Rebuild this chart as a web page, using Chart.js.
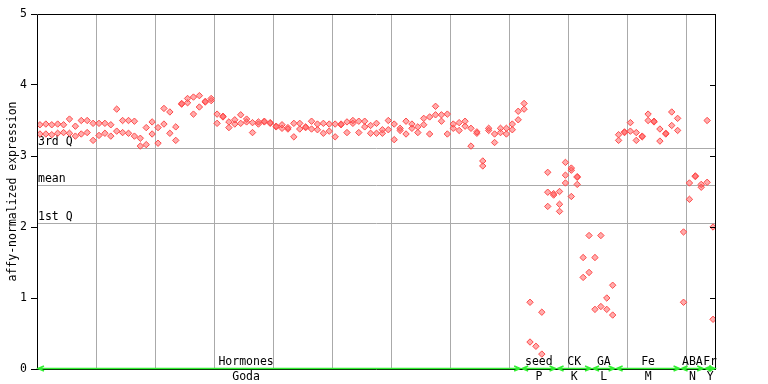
<!DOCTYPE html>
<html>
<head>
<meta charset="utf-8">
<script src="https://cdn.jsdelivr.net/npm/chart.js@4"></script>
<style>
  html, body { margin: 0; padding: 0; background: #fff; }
  #wrap { width: 768px; height: 384px; position: relative; }
</style>
</head>
<body>
<div id="wrap"><canvas id="chart"></canvas></div>
<script>
// expression per sample (replicate 1, replicate 2, extra replicate)
const repA = [
  3.44, 3.45, 3.44, 3.45, 3.44, 3.52, 3.42, 3.50, 3.50, 3.46,
  3.46, 3.46, 3.44, 3.66, 3.50, 3.50, 3.49, 3.25, 3.40, 3.48,
  3.40, 3.67, 3.62, 3.41, 3.74, 3.81, 3.83, 3.85, 3.77, 3.81,
  3.59, 3.56, 3.48, 3.51, 3.58, 3.52, 3.47, 3.48, 3.49, 3.47,
  3.42, 3.44, 3.40, 3.46, 3.46, 3.41, 3.49, 3.45, 3.46, 3.45,
  3.45, 3.45, 3.48, 3.50, 3.49, 3.49, 3.43, 3.46, 3.37, 3.50,
  3.45, 3.39, 3.49, 3.45, 3.41, 3.53, 3.55, 3.70, 3.58, 3.59,
  3.45, 3.47, 3.49, 3.39, 3.34, 2.93, 3.39, 3.31, 3.39, 3.39,
  3.45, 3.63, 3.74, 0.94, 0.32, 0.80, 2.77, 2.47, 2.50, 2.91,
  2.83, 2.71, 1.57, 1.88, 1.57, 1.88, 1.00, 1.18, 3.30, 3.34,
  3.47, 3.33, 3.28, 3.59, 3.49, 3.38, 3.32, 3.62, 3.53, 1.93,
  2.62, 2.72, 2.60, 3.50, 2.00
];
const repB = [
  3.31, 3.31, 3.30, 3.32, 3.33, 3.32, 3.28, 3.31, 3.33, 3.22,
  3.29, 3.32, 3.28, 3.35, 3.33, 3.32, 3.28, 3.14, 3.16, 3.31,
  3.18, 3.45, 3.32, 3.22, 3.73, 3.75, 3.59, 3.69, 3.76, 3.78,
  3.46, 3.55, 3.40, 3.45, 3.46, 3.48, 3.33, 3.45, 3.48, 3.46,
  3.41, 3.39, 3.38, 3.27, 3.38, 3.40, 3.38, 3.37, 3.32, 3.35,
  3.27, 3.44, 3.33, 3.46, 3.33, 3.41, 3.32, 3.32, 3.32, 3.37,
  3.23, 3.36, 3.31, 3.39, 3.33, 3.44, 3.31, 3.58, 3.49, 3.31,
  3.39, 3.36, 3.42, 3.14, 3.32, 2.86, 3.36, 3.19, 3.33, 3.31,
  3.37, 3.51, 3.66, 0.38, null, 0.21, 2.49, 2.45, 2.32, 2.73,
  2.80, 2.60, 1.29, 1.36, 0.84, 0.88, 0.84, 0.76, 3.22, 3.33,
  3.35, 3.22, 3.27, 3.50, 3.48, 3.21, 3.31, 3.43, 3.36, 0.94,
  2.39, 2.71, 2.56, 2.63, 0.70
];
const repC = [];
repC[86] = 2.29; repC[88] = 2.22; repC[89] = 2.62; repC[90] = 2.43; repC[91] = 2.70;

const nSamples = repA.length;

// reference lines
const refNames = ['3rd Q', 'mean', '1st Q'];
const refValues = [3.11, 2.59, 2.05];

// sample groups along the x axis
const groupNames = ['Hormones', 'seed', 'CK', 'GA', 'Fe', 'ABA', 'Fr'];
const groupCodes = ['Goda', 'P', 'K', 'L', 'M', 'N', 'Y'];
const groupStart = [0, 82, 88, 94, 98, 109, 113];
const groupEnd   = [82, 88, 94, 98, 109, 113, 115];

const yTicks = [0, 1, 2, 3, 4, 5];

const FONT = '11.5px "DejaVu Sans Mono", monospace';

function toPoints(arr) {
  const pts = [];
  for (let i = 0; i < nSamples; i++) {
    if (arr[i] != null) pts.push({ x: i + 0.5, y: arr[i] });
  }
  return pts;
}

const pointStyle = {
  showLine: false,
  pointStyle: 'rectRot',
  pointRadius: 3.2,
  pointBorderWidth: 1,
  pointBorderColor: '#ff4a4a',
  pointBackgroundColor: 'rgba(255,90,90,0.5)'
};

const decor = {
  id: 'decor',
  beforeDatasetsDraw(chart) {
    const { ctx, chartArea: a, scales: { y } } = chart;
    ctx.save();
    // reference lines + labels
    ctx.font = FONT;
    ctx.fillStyle = '#000';
    ctx.textAlign = 'left';
    ctx.textBaseline = 'bottom';
    refValues.forEach((v, k) => {
      const py = Math.round(y.getPixelForValue(v)) + 0.5;
      ctx.strokeStyle = '#aaa';
      ctx.lineWidth = 1;
      ctx.beginPath();
      ctx.moveTo(a.left, py);
      ctx.lineTo(a.right, py);
      ctx.stroke();
      ctx.fillText(refNames[k], a.left + 1, py - 1);
    });
    ctx.restore();
  },
  afterDraw(chart) {
    const { ctx, chartArea: a, scales: { x, y } } = chart;
    ctx.save();
    ctx.font = FONT;
    ctx.fillStyle = '#000';

    // frame
    ctx.strokeStyle = '#000';
    ctx.lineWidth = 1;
    ctx.beginPath();
    ctx.moveTo(a.left + 0.5, a.bottom);
    ctx.lineTo(a.left + 0.5, a.top + 0.5);
    ctx.lineTo(a.right - 0.5, a.top + 0.5);
    ctx.lineTo(a.right - 0.5, a.bottom);
    ctx.stroke();
    // inner ticks on right side
    yTicks.forEach(v => {
      const py = Math.round(y.getPixelForValue(v)) + 0.5;
      ctx.beginPath();
      ctx.moveTo(a.right - 6, py);
      ctx.lineTo(a.right, py);
      ctx.stroke();
    });

    // y axis title
    ctx.save();
    ctx.translate(13, (a.top + a.bottom) / 2);
    ctx.rotate(-Math.PI / 2);
    ctx.textAlign = 'center';
    ctx.textBaseline = 'middle';
    ctx.fillText('affy-normalized expression', 0, 0);
    ctx.restore();

    // group bands on the x axis
    const by = Math.round(a.bottom) - 0.5;
    ctx.strokeStyle = '#000';
    ctx.beginPath();
    ctx.moveTo(a.left, by + 1);
    ctx.lineTo(a.right, by + 1);
    ctx.stroke();
    ctx.strokeStyle = '#33ee33';
    ctx.lineWidth = 1.5;
    ctx.textAlign = 'center';
    groupNames.forEach((g, k) => {
      const x0 = x.getPixelForValue(groupStart[k]) + 1;
      const x1 = x.getPixelForValue(groupEnd[k]) - 1;
      ctx.beginPath();
      ctx.moveTo(x0, by);
      ctx.lineTo(x1, by);
      // arrow heads
      ctx.moveTo(x0 + 6, by - 2.5);
      ctx.lineTo(x0, by);
      ctx.lineTo(x0 + 6, by + 2.5);
      ctx.moveTo(x1 - 6, by - 2.5);
      ctx.lineTo(x1, by);
      ctx.lineTo(x1 - 6, by + 2.5);
      ctx.stroke();
      const cx = (x0 + x1) / 2;
      ctx.fillStyle = '#000';
      ctx.textBaseline = 'bottom';
      ctx.fillText(g, k === 0 ? cx - 33 : cx, by - 1);
      ctx.textBaseline = 'top';
      ctx.fillText(groupCodes[k], k === 0 ? cx - 33 : cx, by + 3);
    });

    ctx.restore();
  }
};

new Chart(document.getElementById('chart'), {
  type: 'scatter',
  data: {
    datasets: [
      { data: toPoints(repA), ...pointStyle },
      { data: toPoints(repB), ...pointStyle },
      { data: toPoints(repC), ...pointStyle }
    ]
  },
  options: {
    responsive: true,
    maintainAspectRatio: false,
    animation: false,
    layout: { padding: { top: 14, right: 52, left: 0, bottom: 0 } },
    plugins: { legend: { display: false }, tooltip: { enabled: false } },
    scales: {
      x: {
        type: 'linear',
        min: 0,
        max: nSamples,
        afterBuildTicks: s => {
          const t = [];
          for (let v = 10; v < nSamples; v += 10) t.push({ value: v });
          s.ticks = t;
        },
        afterFit: s => { s.height = 15; },
        ticks: { display: false },
        grid: { color: '#aaa', drawTicks: false },
        border: { display: false }
      },
      y: {
        min: 0,
        max: 5,
        afterBuildTicks: s => { s.ticks = yTicks.map(v => ({ value: v })); },
        afterFit: s => { s.width = 37; },
        ticks: {
          color: '#000',
          font: { family: '"DejaVu Sans Mono", monospace', size: 11.5 },
          padding: 4
        },
        grid: {
          drawOnChartArea: false,
          tickColor: '#000',
          tickLength: 6
        },
        border: { display: false }
      }
    }
  },
  plugins: [decor]
});
</script>
</body>
</html>
